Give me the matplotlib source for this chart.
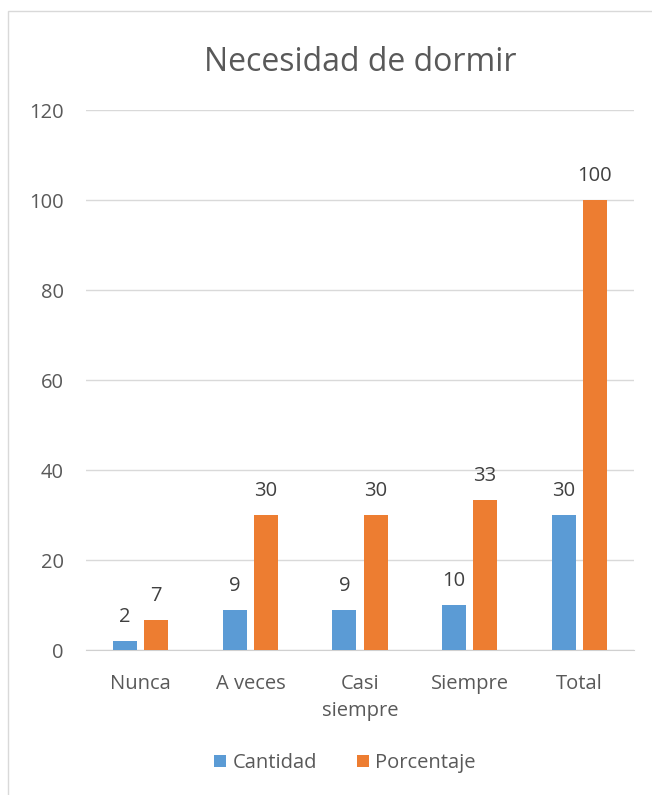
import matplotlib
matplotlib.use("Agg")
import matplotlib.pyplot as plt
import numpy as np
from matplotlib.patches import Rectangle

categories = ["Nunca", "A veces", "Casi\nsiempre", "Siempre", "Total"]
cantidad = [2, 9, 9, 10, 30]
porcentaje = [6.67, 30, 30, 33.33, 100]
series_names = ["Cantidad", "Porcentaje"]
title = "Necesidad de dormir"
yticks = [0, 20, 40, 60, 80, 100, 120]

plt.rcParams['font.family'] = ['Open Sans', 'DejaVu Sans']
txt = '#595959'
fig = plt.figure(figsize=(6.52, 7.95), dpi=100)
fig.patches.append(Rectangle((8/652, -0.01), 1.0, 1 - 11/795 + 0.01, transform=fig.transFigure,
                             fill=False, edgecolor='#d9d9d9', linewidth=1.0))
ax = fig.add_axes([86/652, 1 - 650/795, (634-86)/652, (650-110)/795])

x = np.arange(len(categories))
w = 0.22
off = 0.142
b1 = ax.bar(x - off, cantidad, w, color='#5B9BD5', label=series_names[0], zorder=3)
b2 = ax.bar(x + off, porcentaje, w, color='#ED7D31', label=series_names[1], zorder=3)
for bars, vals in ((b1, cantidad), (b2, porcentaje)):
    for r, v in zip(bars, vals):
        ax.annotate(f"{round(v)}", (r.get_x() + r.get_width()/2, v), xytext=(0, 10),
                    textcoords='offset points', ha='center', va='bottom', fontsize=14.5, color='#404040')

ax.set_xlim(-0.5, len(categories) - 0.5)
ax.set_ylim(0, 120)
ax.set_yticks(yticks)
ax.set_xticks(x)
ax.set_xticklabels(categories, fontsize=14.5, color=txt, linespacing=1.5, va='top')
ax.tick_params(axis='y', labelsize=14.5, labelcolor=txt, length=0, pad=16)
ax.tick_params(axis='x', length=0, pad=17)
ax.grid(axis='y', color='#d9d9d9', linewidth=1.0, zorder=0)
for s in ['top', 'right', 'left']:
    ax.spines[s].set_visible(False)
ax.spines['bottom'].set_color('#d0d0d0')
ax.set_title(title, fontsize=23, color=txt, pad=28)

fig.legend(handles=[b1, b2], loc='center', bbox_to_anchor=(345/652, 1 - 763/795), ncol=2,
           frameon=False, fontsize=14.5, labelcolor=txt, handlelength=0.6, handleheight=0.6,
           handletextpad=0.3, columnspacing=2.0)
fig.savefig("out.png", dpi=100, facecolor='white')
